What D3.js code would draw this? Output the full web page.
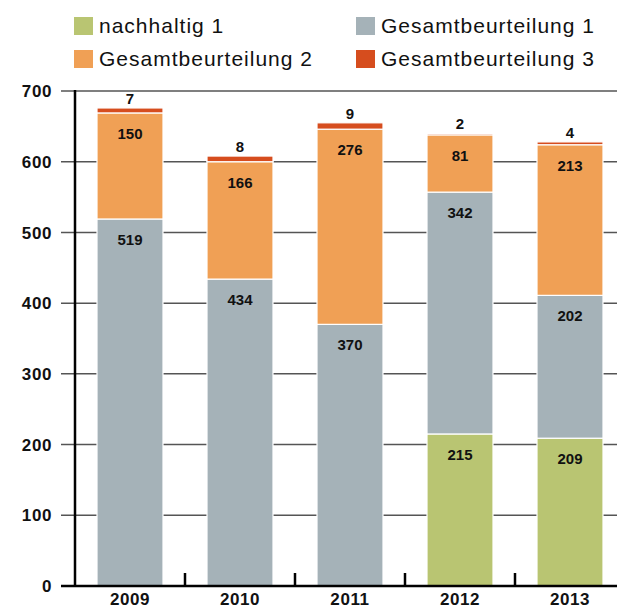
<!DOCTYPE html>
<html>
<head>
<meta charset="utf-8">
<script src="https://cdn.jsdelivr.net/npm/d3@7"></script>
<style>
  body { margin: 0; background: #fff; }
  svg text { font-family: "Liberation Sans", Arial, Helvetica, sans-serif; fill: #111; }
</style>
</head>
<body>
<svg id="chart" width="617" height="608"></svg>
<script>
// data
var years      = ["2009", "2010", "2011", "2012", "2013"];
var nachhaltig = [0, 0, 0, 215, 209];
var gesamt1    = [519, 434, 370, 342, 202];
var gesamt2    = [150, 166, 276, 81, 213];
var gesamt3    = [7, 8, 9, 2, 4];
var series_names  = ["nachhaltig 1", "Gesamtbeurteilung 1", "Gesamtbeurteilung 2", "Gesamtbeurteilung 3"];
var series_colors = ["#b9c572", "#a5b2b8", "#f0a055", "#d64d1e"];
var y_ticks = [0, 100, 200, 300, 400, 500, 600, 700];

var svg = d3.select("#chart");
var margin = {left: 75, bottom: 586, top: 91};

// rows for the stack
var rows = years.map(function(y, i){
  return {year: y, s0: nachhaltig[i], s1: gesamt1[i], s2: gesamt2[i], s3: gesamt3[i]};
});
var keys = ["s0", "s1", "s2", "s3"];
var stacked = d3.stack().keys(keys)(rows);

var x = d3.scaleBand().domain(years).range([75, 625]).paddingInner(0.4).paddingOuter(0.2);
var y = d3.scaleLinear().domain([0, 700]).range([margin.bottom, margin.top]);

// gridlines (bars drawn over them)
svg.append("g").selectAll("line")
  .data(y_ticks.filter(function(d){ return d > 0; }))
  .join("line")
  .attr("x1", 61).attr("x2", 617)
  .attr("y1", function(d){ return y(d); })
  .attr("y2", function(d){ return y(d); })
  .style("stroke", "#555")
  .style("stroke-width", 1.5);

// y tick labels
svg.append("g").selectAll("text")
  .data(y_ticks)
  .join("text")
  .attr("x", 52)
  .attr("y", function(d){ return y(d); })
  .attr("dy", "0.36em")
  .attr("text-anchor", "end")
  .style("font-size", "17px")
  .style("letter-spacing", "0.6px")
  .style("font-weight", "bold")
  .text(function(d){ return d; });

// bars
var layers = svg.append("g").selectAll("g")
  .data(stacked)
  .join("g")
  .style("fill", function(d, i){ return series_colors[i]; });

layers.selectAll("rect")
  .data(function(d){ return d.filter(function(p){ return p[1] - p[0] > 0; }); })
  .join("rect")
  .attr("x", function(d){ return x(d.data.year); })
  .attr("width", x.bandwidth())
  .attr("y", function(d){ return y(d[1]); })
  .attr("height", function(d){ return y(d[0]) - y(d[1]); })
  .style("stroke", "#fff")
  .style("stroke-width", 1.2);

// value labels
stacked.forEach(function(layer, li){
  layer.forEach(function(p){
    var v = p[1] - p[0];
    if(v <= 0) return;
    var top = y(p[1]);
    svg.append("text")
      .attr("x", x(p.data.year) + x.bandwidth()/2)
      .attr("y", li == 3 ? top - 4 : top + 26)
      .attr("text-anchor", "middle")
      .style("font-size", "15px")
      .style("font-weight", "bold")
      .text(v);
  });
});

// y axis line
svg.append("line")
  .attr("x1", 75).attr("x2", 75)
  .attr("y1", y(700) - 1).attr("y2", y(0))
  .style("stroke", "#000").style("stroke-width", 2.5);

// x axis line + ticks between bands
svg.append("line")
  .attr("x1", 61).attr("x2", 617)
  .attr("y1", y(0)).attr("y2", y(0))
  .style("stroke", "#000").style("stroke-width", 2.5);

svg.append("g").selectAll("line")
  .data(years.slice(1))
  .join("line")
  .attr("x1", function(d){ return x(d) - x.step()*x.paddingInner()/2; })
  .attr("x2", function(d){ return x(d) - x.step()*x.paddingInner()/2; })
  .attr("y1", y(0)).attr("y2", y(0) - 13)
  .style("stroke", "#000").style("stroke-width", 2.5);

svg.append("g").selectAll("text")
  .data(years)
  .join("text")
  .attr("x", function(d){ return x(d) + x.bandwidth()/2; })
  .attr("y", 605)
  .attr("text-anchor", "middle")
  .style("font-size", "17px")
  .style("letter-spacing", "0.6px")
  .style("font-weight", "bold")
  .text(function(d){ return d; });

// legend, two columns
var legend_pos = [[74, 17], [356, 17], [74, 50], [356, 50]];
series_names.forEach(function(name, i){
  var g = svg.append("g").attr("transform", "translate(" + legend_pos[i][0] + "," + legend_pos[i][1] + ")");
  g.append("rect").attr("x", 0).attr("y", 0).attr("width", 19).attr("height", 18).style("fill", series_colors[i]);
  g.append("text").attr("x", 25).attr("y", 16)
    .style("font-size", "21px")
    .style("letter-spacing", "1px")
    .text(name);
});
</script>
</body>
</html>
